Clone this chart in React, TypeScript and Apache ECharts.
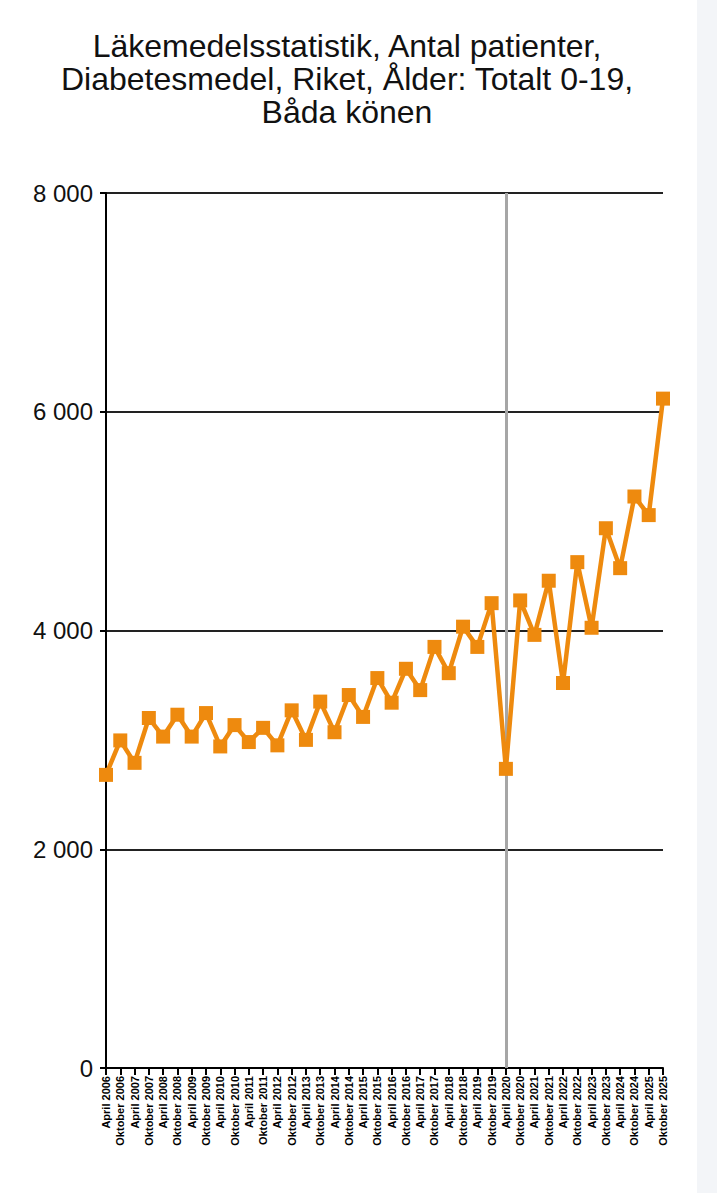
import { useEffect, useRef } from "react";
import * as echarts from "echarts";

const categories = [
  "April 2006", "Oktober 2006", "April 2007", "Oktober 2007", "April 2008", "Oktober 2008",
  "April 2009", "Oktober 2009", "April 2010", "Oktober 2010", "April 2011", "Oktober 2011",
  "April 2012", "Oktober 2012", "April 2013", "Oktober 2013", "April 2014", "Oktober 2014",
  "April 2015", "Oktober 2015", "April 2016", "Oktober 2016", "April 2017", "Oktober 2017",
  "April 2018", "Oktober 2018", "April 2019", "Oktober 2019", "April 2020", "Oktober 2020",
  "April 2021", "Oktober 2021", "April 2022", "Oktober 2022", "April 2023", "Oktober 2023",
  "April 2024", "Oktober 2024", "April 2025", "Oktober 2025",
];

const patienter = [
  2680, 2995, 2790, 3200, 3030, 3230, 3030, 3245, 2940, 3135,
  2980, 3110, 2950, 3270, 3000, 3350, 3070, 3410, 3210, 3565,
  3340, 3650, 3455, 3850, 3610, 4035, 3850, 4250, 2735, 4275,
  3960, 4455, 3520, 4625, 4025, 4935, 4570, 5225, 5055, 6120,
];

const markedCategory = "April 2020";
const titleText = "Läkemedelsstatistik, Antal patienter,\nDiabetesmedel, Riket, Ålder: Totalt 0-19,\nBåda könen";

const fmt = (v: number) => String(v).replace(/\B(?=(\d{3})+(?!\d))/g, " ");

export default function App() {
  const ref = useRef<HTMLDivElement>(null);
  useEffect(() => {
    if (!ref.current) return;
    const chart = echarts.init(ref.current, null, { renderer: "svg" });
    chart.setOption({
      animation: false,
      backgroundColor: "#ffffff",
      title: {
        text: titleText,
        left: 342,
        top: 24,
        textAlign: "center",
        textStyle: {
          fontFamily: "Liberation Sans, Arial, sans-serif",
          fontSize: 32,
          fontWeight: "normal",
          lineHeight: 33,
          color: "#111111",
        },
      },
      grid: { left: 106, right: 54, top: 193, bottom: 125, containLabel: false },
      xAxis: {
        type: "category",
        data: categories,
        boundaryGap: false,
        axisLine: { lineStyle: { color: "#000000", width: 2 } },
        axisTick: { show: true, length: 7, interval: 0, alignWithLabel: true, lineStyle: { color: "#000000", width: 2 } },
        axisLabel: {
          interval: 0,
          rotate: 90,
          margin: 8,
          fontSize: 11,
          fontWeight: "bold",
          fontFamily: "Liberation Sans, Arial, sans-serif",
          color: "#000000",
        },
        splitLine: { show: false },
      },
      yAxis: {
        type: "value",
        min: 0,
        max: 8000,
        interval: 2000,
        axisLine: { show: true, lineStyle: { color: "#000000", width: 2 } },
        axisTick: { show: true, length: 6, lineStyle: { color: "#000000", width: 2 } },
        axisLabel: {
          formatter: fmt,
          margin: 13,
          fontSize: 24,
          fontFamily: "Liberation Sans, Arial, sans-serif",
          color: "#111111",
        },
        splitLine: { show: true, lineStyle: { color: "#222222", width: 2 } },
      },
      series: [
        {
          type: "line",
          data: patienter,
          symbol: "rect",
          symbolSize: 14,
          lineStyle: { color: "#EE8A0E", width: 4.5 },
          itemStyle: { color: "#EE8A0E" },
          z: 3,
          markLine: {
            silent: true,
            symbol: "none",
            label: { show: false },
            lineStyle: { color: "#a6a6a6", width: 3, type: "solid" },
            data: [{ xAxis: markedCategory }],
            z: 1,
          },
        },
      ],
    });
    return () => chart.dispose();
  }, []);
  return (
    <div style={{ position: "fixed", left: 0, top: 0, width: 717, height: 1193, background: "#ffffff" }}>
      <div ref={ref} style={{ position: "absolute", left: 0, top: 0, width: 717, height: 1193 }} />
      <div style={{ position: "absolute", left: 697, top: 0, width: 20, height: 1193, background: "#f3f5f8" }} />
    </div>
  );
}
